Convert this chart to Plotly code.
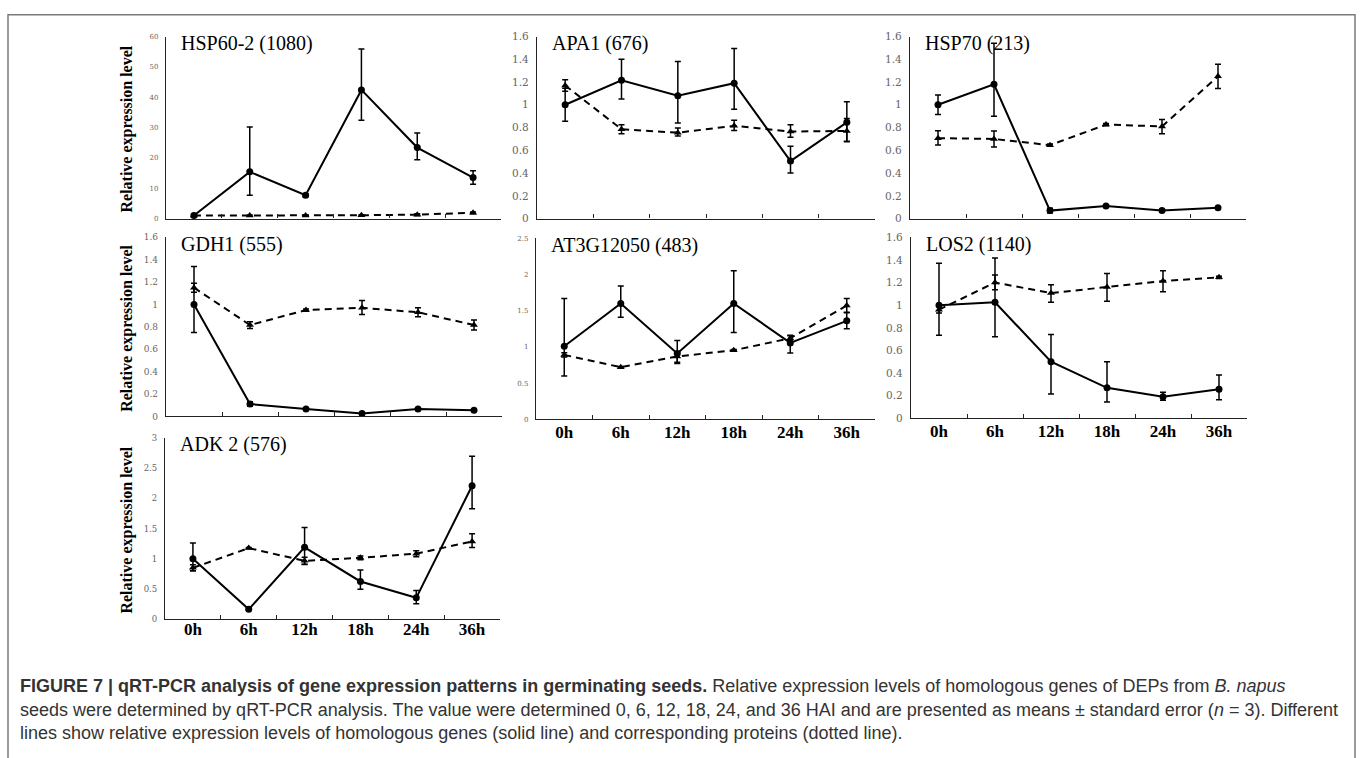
import plotly.graph_objects as go

W, H = 1360, 758

times = ["0h", "6h", "12h", "18h", "24h", "36h"]

# ---- data (gene = solid line, protein = dashed line) ----
hsp602_gene = [1.0, 15.4, 7.7, 42.4, 23.4, 13.5]
hsp602_gene_up = [0.5, 14.8, 0.5, 13.5, 4.8, 2.3]
hsp602_gene_dn = [0.5, 7.7, 0.5, 10.0, 4.0, 2.2]
hsp602_prot = [1.0, 1.0, 1.0, 1.1, 1.3, 1.9]
hsp602_prot_up = [0.2, 0.2, 0.2, 0.2, 0.3, 0.3]
hsp602_prot_dn = [0.2, 0.2, 0.2, 0.2, 0.3, 0.3]

apa1_gene = [1.0, 1.215, 1.08, 1.19, 0.505, 0.846]
apa1_gene_up = [0.145, 0.185, 0.30, 0.305, 0.13, 0.18]
apa1_gene_dn = [0.145, 0.165, 0.24, 0.23, 0.105, 0.17]
apa1_prot = [1.17, 0.785, 0.755, 0.815, 0.765, 0.77]
apa1_prot_up = [0.05, 0.04, 0.04, 0.05, 0.06, 0.11]
apa1_prot_dn = [0.05, 0.04, 0.03, 0.04, 0.05, 0.09]

hsp70_gene = [1.0, 1.18, 0.07, 0.11, 0.07, 0.095]
hsp70_gene_up = [0.085, 0.36, 0.02, 0.01, 0.01, 0.01]
hsp70_gene_dn = [0.085, 0.28, 0.02, 0.01, 0.01, 0.01]
hsp70_prot = [0.707, 0.70, 0.645, 0.826, 0.81, 1.25]
hsp70_prot_up = [0.065, 0.07, 0.01, 0.01, 0.06, 0.107]
hsp70_prot_dn = [0.06, 0.07, 0.01, 0.01, 0.065, 0.107]

gdh1_gene = [1.0, 0.11, 0.065, 0.025, 0.065, 0.055]
gdh1_gene_up = [0.34, 0.02, 0.01, 0.01, 0.01, 0.01]
gdh1_gene_dn = [0.25, 0.02, 0.01, 0.01, 0.01, 0.01]
gdh1_prot = [1.15, 0.816, 0.95, 0.97, 0.93, 0.816]
gdh1_prot_up = [0.04, 0.03, 0.01, 0.065, 0.04, 0.045]
gdh1_prot_dn = [0.04, 0.03, 0.01, 0.06, 0.04, 0.045]

at3g_gene = [1.01, 1.6, 0.91, 1.6, 1.055, 1.36]
at3g_gene_up = [0.66, 0.24, 0.18, 0.45, 0.10, 0.12]
at3g_gene_dn = [0.41, 0.19, 0.14, 0.40, 0.14, 0.11]
at3g_prot = [0.89, 0.72, 0.868, 0.954, 1.12, 1.57]
at3g_prot_up = [0.03, 0.01, 0.06, 0.01, 0.04, 0.10]
at3g_prot_dn = [0.03, 0.01, 0.08, 0.01, 0.04, 0.10]

los2_gene = [1.0, 1.026, 0.50, 0.27, 0.19, 0.258]
los2_gene_up = [0.37, 0.39, 0.24, 0.23, 0.04, 0.125]
los2_gene_dn = [0.265, 0.305, 0.285, 0.125, 0.03, 0.093]
los2_prot = [0.96, 1.2, 1.107, 1.16, 1.214, 1.246]
los2_prot_up = [0.03, 0.067, 0.073, 0.12, 0.09, 0.01]
los2_prot_dn = [0.03, 0.064, 0.08, 0.125, 0.095, 0.01]

adk2_gene = [1.0, 0.163, 1.19, 0.624, 0.353, 2.21]
adk2_gene_up = [0.26, 0.01, 0.33, 0.19, 0.12, 0.49]
adk2_gene_dn = [0.2, 0.01, 0.28, 0.13, 0.10, 0.38]
adk2_prot = [0.85, 1.177, 0.966, 1.015, 1.085, 1.286]
adk2_prot_up = [0.05, 0.01, 0.06, 0.03, 0.05, 0.13]
adk2_prot_dn = [0.05, 0.01, 0.06, 0.03, 0.05, 0.10]

panel_titles = ["HSP60-2 (1080)", "APA1 (676)", "HSP70 (213)", "GDH1 (555)",
                "AT3G12050 (483)", "LOS2 (1140)", "ADK 2 (576)"]
y_max = [60, 1.6, 1.6, 1.6, 2.5, 1.6, 3]
y_dtick = [10, 0.2, 0.2, 0.2, 0.5, 0.2, 0.5]
y_title = "Relative expression level"

# ---- layout geometry (pixels: left, right, top, bottom) ----
boxes = [
    (166, 501, 31, 216),
    (537, 875, 31, 216),
    (910, 1246, 31, 216),
    (166, 502, 235, 417),
    (536, 875, 236, 420),
    (911, 1247, 235, 419),
    (165, 500, 439, 623),
]
ytick_size = [7, 10.5, 10.5, 9, 7, 10.5, 8.5]
xlabel_standoff = [0, 0, 0, 0, -3, -3, -6]
show_xlabels = [False, False, False, False, True, True, True]
show_ytitle = [True, False, False, True, False, False, True]

panels = [
    (hsp602_gene, hsp602_gene_up, hsp602_gene_dn, hsp602_prot, hsp602_prot_up, hsp602_prot_dn),
    (apa1_gene, apa1_gene_up, apa1_gene_dn, apa1_prot, apa1_prot_up, apa1_prot_dn),
    (hsp70_gene, hsp70_gene_up, hsp70_gene_dn, hsp70_prot, hsp70_prot_up, hsp70_prot_dn),
    (gdh1_gene, gdh1_gene_up, gdh1_gene_dn, gdh1_prot, gdh1_prot_up, gdh1_prot_dn),
    (at3g_gene, at3g_gene_up, at3g_gene_dn, at3g_prot, at3g_prot_up, at3g_prot_dn),
    (los2_gene, los2_gene_up, los2_gene_dn, los2_prot, los2_prot_up, los2_prot_dn),
    (adk2_gene, adk2_gene_up, adk2_gene_dn, adk2_prot, adk2_prot_up, adk2_prot_dn),
]

SERIF = "Liberation Serif, Times New Roman, serif"
NUMS = "DejaVu Serif, serif"
SANS = "Liberation Sans, Arial, Helvetica, sans-serif"

fig = go.Figure()
layout = dict(
    width=W, height=H,
    margin=dict(l=0, r=0, t=0, b=0),
    paper_bgcolor="white", plot_bgcolor="white",
    showlegend=False,
)
annotations = []
shapes = []

for i, (box, data) in enumerate(zip(boxes, panels)):
    n = i + 1
    xa = "x" if n == 1 else f"x{n}"
    ya = "y" if n == 1 else f"y{n}"
    l, r, t, b = box
    g, gu, gd, p, pu, pd = data
    fig.add_trace(go.Scatter(
        x=times, y=p, xaxis=xa, yaxis=ya, mode="lines+markers",
        line=dict(color="black", width=2, dash="7px,5px"),
        marker=dict(symbol="triangle-up", size=7, color="black"),
        error_y=dict(type="data", symmetric=False, array=pu, arrayminus=pd,
                     color="black", thickness=1.5, width=3),
        cliponaxis=False,
    ))
    fig.add_trace(go.Scatter(
        x=times, y=g, xaxis=xa, yaxis=ya, mode="lines+markers",
        line=dict(color="black", width=2),
        marker=dict(symbol="circle", size=7, color="black"),
        error_y=dict(type="data", symmetric=False, array=gu, arrayminus=gd,
                     color="black", thickness=1.5, width=3),
        cliponaxis=False,
    ))
    xkey = "xaxis" if n == 1 else f"xaxis{n}"
    ykey = "yaxis" if n == 1 else f"yaxis{n}"
    layout[xkey] = dict(
        domain=[l / W, r / W], anchor=ya, type="category",
        categoryorder="array", categoryarray=times, range=[-0.5, 5.5],
        tickson="boundaries", ticks="inside", ticklen=4, tickcolor="#222",
        showline=True, linecolor="#222", linewidth=1.2, showgrid=False,
        zeroline=False, showticklabels=show_xlabels[i],
        ticklabelstandoff=xlabel_standoff[i],
        tickfont=dict(family=SERIF, size=17, color="black", weight="bold"),
    )
    layout[ykey] = dict(
        domain=[1 - b / H, 1 - t / H], anchor=xa, range=[0, y_max[i]],
        dtick=y_dtick[i], tick0=0, showline=True, linecolor="#222",
        linewidth=1.2, showgrid=False, zeroline=False, ticks="",
        ticklabelstandoff=5,
        tickfont=dict(family=NUMS, size=ytick_size[i], color="#666"),
    )
    annotations.append(dict(
        xref="paper", yref="paper", x=(l + 13) / W, y=1 - (t + 7) / H,
        xanchor="left", yanchor="middle", showarrow=False,
        text=panel_titles[i], font=dict(family=SERIF, size=20, color="black"),
    ))
    if show_ytitle[i]:
        annotations.append(dict(
            xref="paper", yref="paper", x=127 / W, y=1 - ((t + b) / 2 + 2) / H,
            xanchor="center", yanchor="middle", showarrow=False, textangle=-90,
            text=f"<b>{y_title}</b>", font=dict(family=SERIF, size=16, color="black"),
        ))

# caption
cap_lines = [
    "<b>FIGURE 7 | qRT-PCR analysis of gene expression patterns in germinating seeds.</b>"
    " Relative expression levels of homologous genes of DEPs from <i>B. napus</i>",
    "seeds were determined by qRT-PCR analysis. The value were determined 0, 6, 12, 18, 24,"
    " and 36 HAI and are presented as means ± standard error (<i>n</i> = 3). Different",
    "lines show relative expression levels of homologous genes (solid line) and"
    " corresponding proteins (dotted line).",
]
cap_y = [691, 715, 739]
for txt, yy in zip(cap_lines, cap_y):
    annotations.append(dict(
        xref="paper", yref="paper", x=18 / W, y=1 - yy / H,
        xanchor="left", yanchor="middle", showarrow=False, text=txt,
        font=dict(family=SANS, size=18, color="#333"),
    ))

# outer frame
shapes.append(dict(
    type="rect", xref="paper", yref="paper",
    x0=8 / W, x1=1355 / W, y0=-20 / H, y1=1 - 9 / H,
    line=dict(color="#7a7a7a", width=1.5), fillcolor="rgba(0,0,0,0)",
))

layout["annotations"] = annotations
layout["shapes"] = shapes
fig.update_layout(**layout)

fig.write_html(
    "out.html",
    config={"displayModeBar": False},
    post_script="document.body.style.margin='0';document.body.style.overflow='hidden';",
)
